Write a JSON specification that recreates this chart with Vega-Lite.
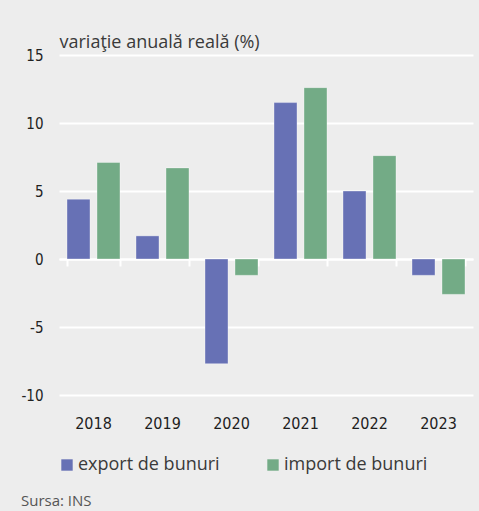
{
  "$schema": "https://vega.github.io/schema/vega-lite/v6.json",
  "width": 414,
  "height": 340,
  "autosize": {"type": "none"},
  "padding": {"left": 59, "top": 55, "right": 6, "bottom": 116},
  "background": "#ededed",
  "config": {"view": {"stroke": null}},
  "title": {"text": "Sursa: INS", "orient": "bottom", "anchor": "start", "frame": "bounds", "font": "Open Sans", "fontSize": 15, "fontWeight": "normal", "color": "#555555", "offset": 20},
  "data": {"values": [
    {"year": "2018", "series": "export de bunuri", "value": 4.4},
    {"year": "2018", "series": "import de bunuri", "value": 7.1},
    {"year": "2019", "series": "export de bunuri", "value": 1.7},
    {"year": "2019", "series": "import de bunuri", "value": 6.7},
    {"year": "2020", "series": "export de bunuri", "value": -7.7},
    {"year": "2020", "series": "import de bunuri", "value": -1.2},
    {"year": "2021", "series": "export de bunuri", "value": 11.5},
    {"year": "2021", "series": "import de bunuri", "value": 12.6},
    {"year": "2022", "series": "export de bunuri", "value": 5.0},
    {"year": "2022", "series": "import de bunuri", "value": 7.6},
    {"year": "2023", "series": "export de bunuri", "value": -1.2},
    {"year": "2023", "series": "import de bunuri", "value": -2.6}
  ]},
  "layer": [
    {
      "mark": {"type": "bar", "stroke": "#ffffff", "strokeOpacity": 0.35, "strokeWidth": 1},
      "encoding": {
        "x": {"field": "year", "type": "nominal", "scale": {"paddingInner": 0.232, "paddingOuter": 0.116},
          "axis": {"orient": "bottom", "title": null, "domain": false, "ticks": false, "grid": false, "labelAngle": 0, "labelPadding": 20, "labelFont": "Liberation Sans Narrow, DejaVu Sans Condensed, sans-serif", "labelFontSize": 16, "labelFontWeight": "normal", "labelColor": "#1e1e1e"}},
        "xOffset": {"field": "series", "type": "nominal", "sort": ["export de bunuri", "import de bunuri"], "scale": {"paddingInner": 0.233, "paddingOuter": 0}},
        "y": {"field": "value", "type": "quantitative", "scale": {"domain": [-10, 15], "nice": false},
          "axis": {"values": [-10, -5, 0, 5, 10, 15], "grid": true, "gridColor": "#ffffff", "gridWidth": 2, "gridOpacity": 1, "ticks": false, "domain": false, "labelPadding": 16, "labelFont": "Liberation Sans Narrow, DejaVu Sans Condensed, sans-serif", "labelFontSize": 15, "labelColor": "#222222", "labelExpr": "replace(datum.label, '−', '-')",
            "title": "variaţie anuală reală (%)", "titleAngle": 0, "titleAlign": "left", "titleBaseline": "alphabetic", "titleX": 0, "titleY": -8, "titleFont": "Open Sans", "titleFontSize": 18, "titleFontWeight": "normal", "titleColor": "#3a3a3a"}},
        "color": {"field": "series", "type": "nominal",
          "scale": {"domain": ["export de bunuri", "import de bunuri"], "range": ["#6771b5", "#73ab86"]},
          "legend": {"title": null, "orient": "none", "legendX": -1, "legendY": 401, "direction": "horizontal", "symbolType": "square", "symbolSize": 130, "symbolStrokeWidth": 0, "labelFont": "Open Sans", "labelFontSize": 18, "labelColor": "#3a3a3a", "labelOffset": 2, "columnPadding": 44}}
      }
    },
    {
      "mark": {"type": "point", "opacity": 0},
      "encoding": {
        "x": {"field": "year", "type": "nominal",
          "axis": {"orient": "bottom", "offset": -136, "title": null, "labels": false, "grid": false, "domain": true, "domainColor": "#ffffff", "domainWidth": 2, "ticks": true, "tickBand": "extent", "tickColor": "#ffffff", "tickWidth": 2, "tickSize": 7}},
        "y": {"datum": 0}
      }
    }
  ],
  "resolve": {"axis": {"x": "independent"}}
}
